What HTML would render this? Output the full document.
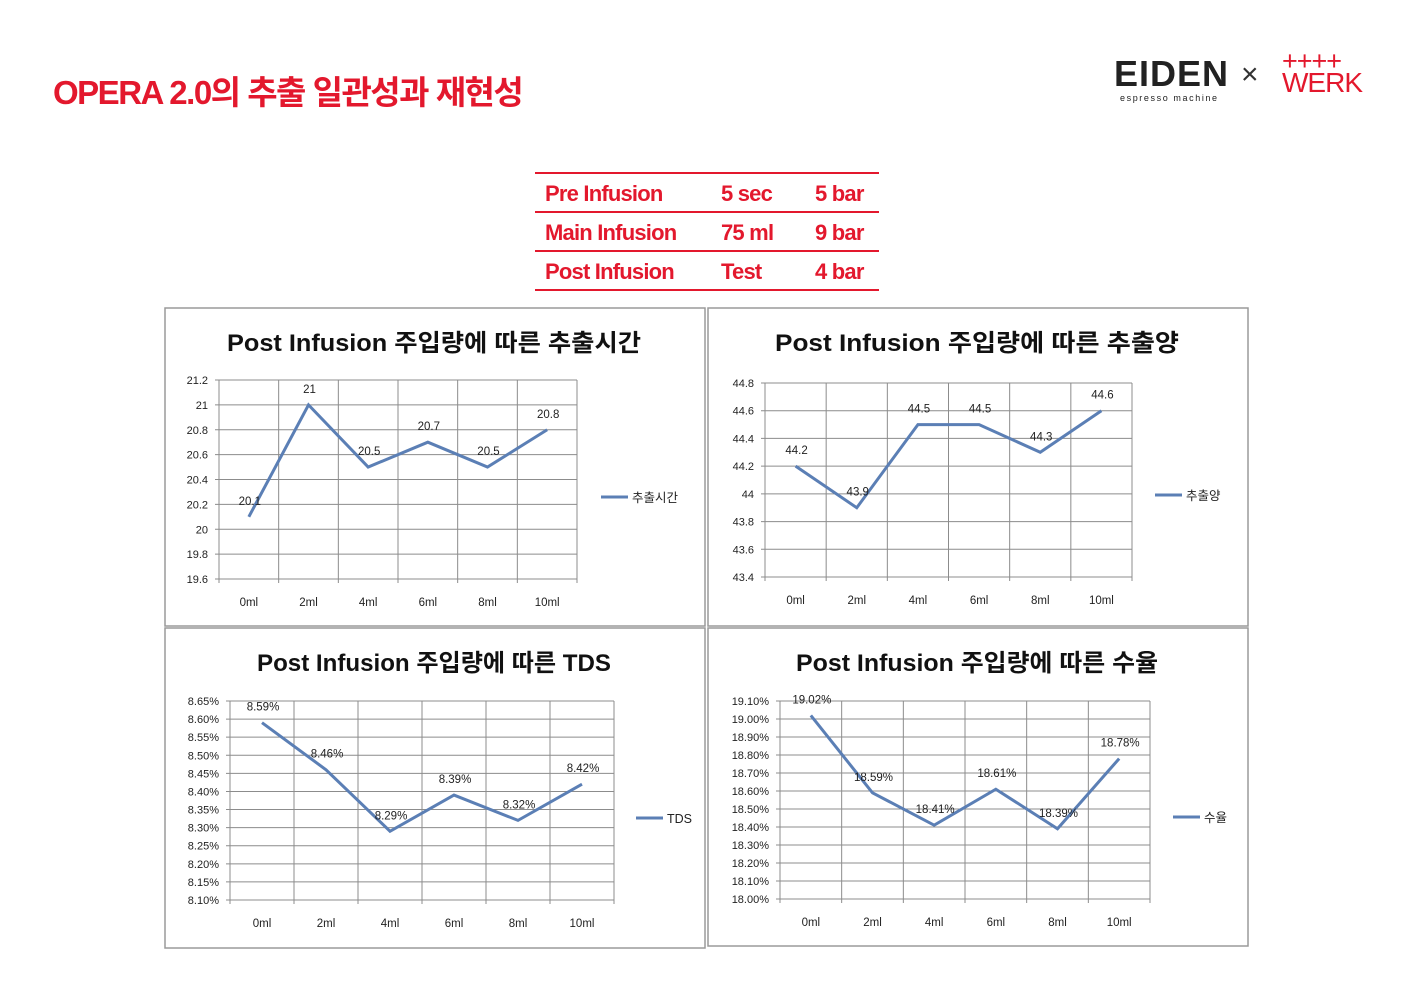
<!DOCTYPE html>
<html><head><meta charset="utf-8">
<style>
body{margin:0;width:1415px;height:1000px;background:#fff;overflow:hidden;font-family:"Liberation Sans","Noto Sans CJK KR",sans-serif;position:relative}
.title{position:absolute;left:53px;top:66px;font-size:33px;font-weight:bold;color:#e3182d;letter-spacing:-1.5px}
.tbl{position:absolute;left:535px;top:172px;width:344px;border-collapse:collapse;color:#e3182d;font-weight:bold;font-size:22px;letter-spacing:-0.8px;table-layout:fixed}
.tbl td{border-top:2px solid #e3182d;border-bottom:2px solid #e3182d;height:35px;padding:2px 0 0 0;white-space:nowrap}
svg{position:absolute;left:0;top:0}
</style></head><body>
<div class="title">OPERA 2.0의 추출 일관성과 재현성</div>
<div style="position:absolute;left:1114px;top:54px;font-size:36px;font-weight:bold;color:#222;letter-spacing:1px;line-height:40px">EIDEN<div style="font-size:9px;letter-spacing:1.6px;line-height:8px;font-weight:normal;margin-left:6px">espresso machine</div></div>
<div style="position:absolute;left:1241px;top:58px;font-size:30px;color:#333">×</div>
<div style="position:absolute;left:1282px;top:50px;color:#e3182d;font-size:27px;line-height:22px;letter-spacing:-1px">++++<br><span style="font-size:28px">WERK</span></div>
<table class="tbl">
<colgroup><col style="width:186px"><col style="width:94px"><col style="width:64px"></colgroup>
<tr><td style="padding-left:10px">Pre Infusion</td><td>5 sec</td><td>5 bar</td></tr>
<tr><td style="padding-left:10px">Main Infusion</td><td>75 ml</td><td>9 bar</td></tr>
<tr><td style="padding-left:10px">Post Infusion</td><td>Test</td><td>4 bar</td></tr>
</table>
<svg id="s" width="1415" height="1000"></svg>
<script>
const categories=["0ml","2ml","4ml","6ml","8ml","10ml"];
const timeValues=[20.1,21,20.5,20.7,20.5,20.8];
const timeTicks=[19.6,19.8,20,20.2,20.4,20.6,20.8,21,21.2];
const volValues=[44.2,43.9,44.5,44.5,44.3,44.6];
const volTicks=[43.4,43.6,43.8,44,44.2,44.4,44.6,44.8];
const tdsValues=[8.59,8.46,8.29,8.39,8.32,8.42];
const tdsTicks=[8.10,8.15,8.20,8.25,8.30,8.35,8.40,8.45,8.50,8.55,8.60,8.65];
const yieldValues=[19.02,18.59,18.41,18.61,18.39,18.78];
const yieldTicks=[18.0,18.1,18.2,18.3,18.4,18.5,18.6,18.7,18.8,18.9,19.0,19.1];
const NS="http://www.w3.org/2000/svg";
const svg=document.getElementById('s');
function mk(t,a,p){const e=document.createElementNS(NS,t);for(const k in a)e.setAttribute(k,a[k]);(p||svg).appendChild(e);return e;}
function chart(o){
  const g=mk('g',{});
  
  
  const box=mk('rect',{x:o.bx,y:o.by,width:540,height:o.bh,fill:'#fff',stroke:'#9a9a9a','stroke-width':1.5},g);
  
  
  const t=mk('text',{x:o.tx,y:o.by+43,'font-size':24,'font-weight':'bold',fill:'#111','text-anchor':'middle',textLength:o.tw,lengthAdjust:'spacingAndGlyphs'},g);
  t.textContent=o.title;
  
  
  const lo=o.ticks[0],hi=o.ticks[o.ticks.length-1];
  const ys=v=>o.y1+(hi-v)/(hi-lo)*(o.y0-o.y1);
  const bw=(o.x1-o.x0)/categories.length;
  const xs=i=>o.x0+bw*(i+0.5);
  o.ticks.forEach(v=>{
    mk('line',{x1:o.x0-4,x2:o.x1,y1:ys(v),y2:ys(v),stroke:'#8c8c8c','stroke-width':1},g);
    const l=mk('text',{x:o.x0-11,y:ys(v)+4,'font-size':11,fill:'#222','text-anchor':'end'},g);
    l.textContent=o.fmt(v);
    
    
  });
  for(let i=0;i<=categories.length;i++){
    mk('line',{x1:o.x0+bw*i,x2:o.x0+bw*i,y1:o.y1,y2:o.y0+4,stroke:'#8c8c8c','stroke-width':1},g);
  }
  categories.forEach((c,i)=>{
    const l=mk('text',{x:xs(i),y:o.y0+27,'font-size':11.5,fill:'#222','text-anchor':'middle'},g);
    l.textContent=c;
    
    
  });
  const pts=o.values.map((v,i)=>xs(i)+','+ys(v)).join(' ');
  const pl=mk('polyline',{points:pts,fill:'none',stroke:'#5b7fb5','stroke-width':3},g);
  
  
  o.values.forEach((v,i)=>{
    const l=mk('text',{x:xs(i)+1,y:ys(v)-12,'font-size':11.5,fill:'#222','text-anchor':'middle'},g);
    l.textContent=o.lab(v);
    
    
  });
  const ly=o.y0-82;
  mk('line',{x1:o.lx,x2:o.lx+27,y1:ly,y2:ly,stroke:'#5b7fb5','stroke-width':3},g);
  const lt=mk('text',{x:o.lx+31,y:ly+5,'font-size':12.5,fill:'#222'},g);
  lt.textContent=o.legend;
  
  
}
chart({name:'extraction-time-chart',bx:165,by:308,bh:318,tx:434,tw:414,title:'Post Infusion 주입량에 따른 추출시간',x0:219,x1:577,y0:579,y1:380,ticks:timeTicks,values:timeValues,fmt:v=>String(+v.toFixed(1)),lab:v=>String(v),lx:601,legend:'추출시간'});
chart({name:'extraction-volume-chart',bx:708,by:308,bh:318,tx:977,tw:404,title:'Post Infusion 주입량에 따른 추출양',x0:765,x1:1132,y0:577,y1:383,ticks:volTicks,values:volValues,fmt:v=>String(+v.toFixed(1)),lab:v=>String(v),lx:1155,legend:'추출양'});
chart({name:'tds-chart',bx:165,by:628,bh:320,tx:434,tw:354,title:'Post Infusion 주입량에 따른 TDS',x0:230,x1:614,y0:900,y1:701,ticks:tdsTicks,values:tdsValues,fmt:v=>v.toFixed(2)+'%',lab:v=>v.toFixed(2)+'%',lx:636,legend:'TDS'});
chart({name:'yield-chart',bx:708,by:628,bh:318,tx:977,tw:362,title:'Post Infusion 주입량에 따른 수율',x0:780,x1:1150,y0:899,y1:701,ticks:yieldTicks,values:yieldValues,fmt:v=>v.toFixed(2)+'%',lab:v=>v.toFixed(2)+'%',lx:1173,legend:'수율'});
</script>
</body></html>
